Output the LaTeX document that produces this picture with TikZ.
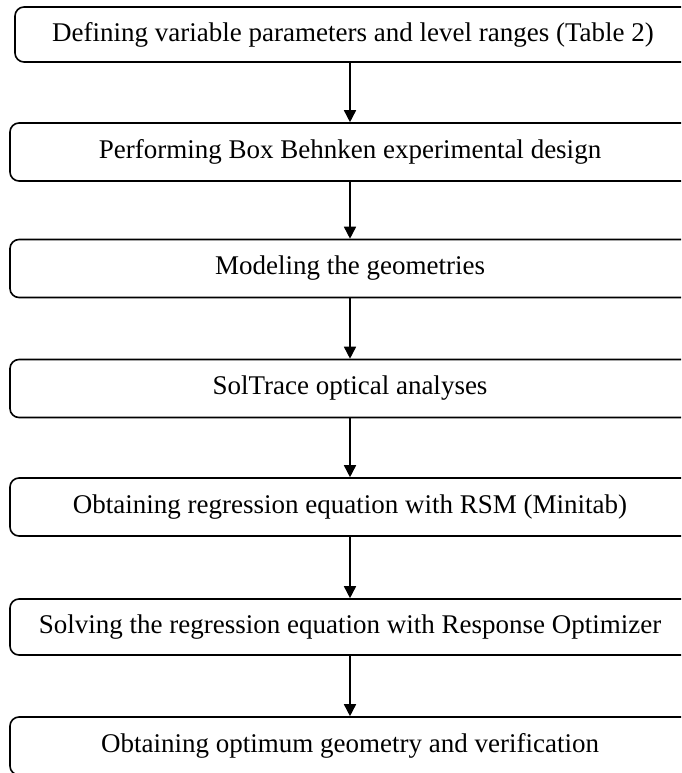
\documentclass[tikz,border=0pt]{standalone}
\usepackage{fontspec}
\setmainfont{Liberation Serif}
\usetikzlibrary{arrows.meta}
\begin{document}
\begin{tikzpicture}[x=1pt,y=-1pt,stepbox/.style={draw, line width=1.6pt, rounded corners=9pt, minimum width=680pt, minimum height=58pt, inner sep=0pt, font=\fontsize{27}{32}\selectfont}]
    \useasboundingbox (0,0) rectangle (681,773);
    \clip (0,0) rectangle (681,773);
    \node[stepbox,minimum width=676pt,minimum height=55pt] (define) at (353,34.5) {Defining variable parameters and level ranges (Table 2)};
    \node[stepbox] (design) at (350,152) {Performing Box Behnken experimental design};
    \node[stepbox] (model) at (350,268.5) {Modeling the geometries};
    \node[stepbox] (trace) at (350,388.5) {SolTrace optical analyses};
    \node[stepbox] (regress) at (350,507) {Obtaining regression equation with RSM (Minitab)};
    \node[stepbox,minimum height=56pt] (solve) at (350,627) {Solving the regression equation with Response Optimizer};
    \node[stepbox] (optimum) at (350,746) {Obtaining optimum geometry and verification};
    \draw[line width=1.6pt,-{Triangle[length=12pt,width=12pt]}] (define.south -| design) -- (design);
    \draw[line width=1.6pt,-{Triangle[length=12pt,width=12pt]}] (design) -- (model);
    \draw[line width=1.6pt,-{Triangle[length=12pt,width=12pt]}] (model) -- (trace);
    \draw[line width=1.6pt,-{Triangle[length=12pt,width=12pt]}] (trace) -- (regress);
    \draw[line width=1.6pt,-{Triangle[length=12pt,width=12pt]}] (regress) -- (solve);
    \draw[line width=1.6pt,-{Triangle[length=12pt,width=12pt]}] (solve) -- (optimum);
  \end{tikzpicture}
\end{document}
